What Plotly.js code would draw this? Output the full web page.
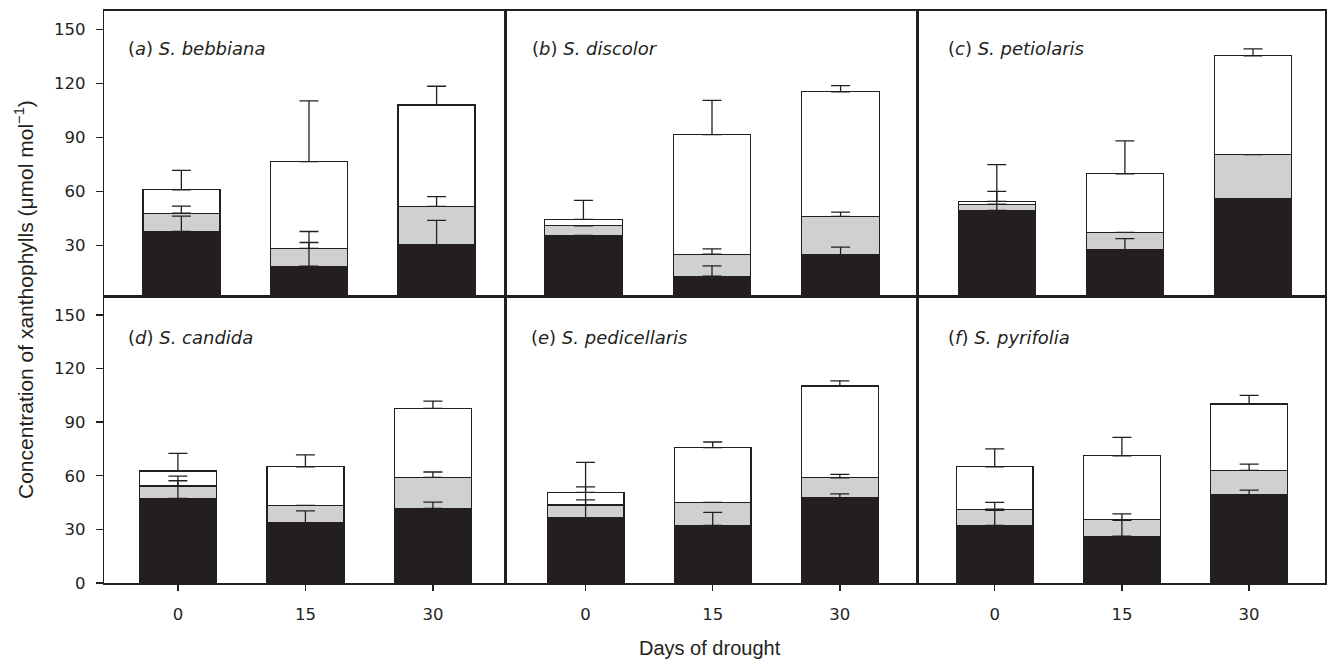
<!DOCTYPE html>
<html>
<head>
<meta charset="utf-8">
<script src="https://cdn.plot.ly/plotly-3.0.1.min.js"></script>
<style>html,body{margin:0;padding:0;background:#fff;} #chart{width:1330px;height:660px;}</style>
</head>
<body>
<div id="chart"></div>
<script>
// ---- data ----
const days = [0, 15, 30];
const dayLabels = ['0', '15', '30'];
const panelLetters = ['a', 'b', 'c', 'd', 'e', 'f'];
const species = ['S. bebbiana', 'S. discolor', 'S. petiolaris', 'S. candida', 'S. pedicellaris', 'S. pyrifolia'];

// segment heights per panel (bottom: black, middle: grey, top: white), µmol mol-1
const blackSeg = [
  [37.8, 18.5, 30.4],
  [35.6, 13.0, 25.0],
  [49.5, 27.7, 55.8],
  [47.3, 33.6, 41.7],
  [36.3, 32.2, 47.6],
  [32.2, 26.2, 49.2]
];
const greySeg = [
  [10.2, 9.9, 21.4],
  [5.4, 12.2, 21.2],
  [3.4, 9.6, 24.7],
  [6.9, 9.8, 17.4],
  [7.3, 12.9, 11.3],
  [9.1, 9.3, 13.8]
];
const whiteSeg = [
  [13.0, 48.2, 56.3],
  [3.5, 66.4, 69.2],
  [1.6, 32.6, 54.9],
  [8.4, 21.6, 38.6],
  [7.1, 30.6, 51.4],
  [23.7, 35.7, 37.2]
];
// upper error bars
const blackErr = [
  [8.6, 13.2, 13.6],
  [0, 5.7, 4.1],
  [3.4, 6.1, 0],
  [9.9, 6.8, 3.5],
  [10.2, 7.3, 2.3],
  [8.5, 8.8, 2.8]
];
const greyErr = [
  [3.9, 9.4, 5.4],
  [0, 3.0, 2.4],
  [7.2, 0, 0],
  [5.6, 0, 3.0],
  [10.2, 0, 1.9],
  [3.8, 3.2, 3.5]
];
const whiteErr = [
  [10.8, 33.8, 10.4],
  [10.6, 19.1, 3.5],
  [20.5, 18.2, 3.9],
  [9.9, 6.7, 4.1],
  [16.8, 3.2, 2.8],
  [10.1, 10.3, 4.8]
];
const yTicksTop = [30, 60, 90, 120, 150];
const yTicksBottom = [0, 30, 60, 90, 120, 150];

// ---- styling / layout ----
const INK = '#231f20';
const GREY = '#cfd0d2';
const W = 1330, H = 660;
const px = v => v / W;
const py = v => 1 - v / H;
const colDom = [[px(104.3), px(505.5)], [px(505.5), px(917.3)], [px(917.3), px(1325)]];
const rowDom = [[py(296.5), py(11)], [py(583), py(296.5)]];
const yRange = [[1.7, 160.3], [0, 160.3]];
const xRanges = [[-9.06, 38.10], [-9.09, 38.95], [-9.31, 38.43], [-8.66, 38.54], [-9.45, 39.14], [-9.13, 38.95]];
const labelPos = [[126, 48], [530, 48], [946, 48], [126, 337], [529, 337], [946, 337]];
const barW = 9.05;

const traces = [];
const layout = {
  width: W, height: H,
  margin: {l: 0, r: 0, t: 0, b: 0},
  paper_bgcolor: '#fff', plot_bgcolor: '#fff',
  barmode: 'stack',
  showlegend: false,
  hovermode: false,
  font: {family: 'DejaVu Sans', color: INK, size: 16},
  annotations: []
};

for (let i = 0; i < 6; i++) {
  const row = Math.floor(i / 3), col = i % 3;
  const sfx = i === 0 ? '' : String(i + 1);
  const xa = 'x' + sfx, ya = 'y' + sfx;
  const segs = [[blackSeg[i], INK], [greySeg[i], GREY], [whiteSeg[i], '#ffffff']];
  segs.forEach(([vals, color]) => {
    traces.push({
      type: 'bar', x: days, y: vals, width: barW,
      xaxis: xa, yaxis: ya,
      marker: {color: color, line: {color: INK, width: 1.3}}
    });
  });
  // error bars drawn above all bars, at the cumulative top of each segment
  const ex = [], ey = [], ee = [], em = [];
  for (let j = 0; j < 3; j++) {
    const t1 = blackSeg[i][j];
    const t2 = t1 + greySeg[i][j];
    const t3 = t2 + whiteSeg[i][j];
    [[t1, blackErr[i][j]], [t2, greyErr[i][j]], [t3, whiteErr[i][j]]].forEach(([t, e]) => {
      ex.push(days[j]); ey.push(t); ee.push(e); em.push(0);
    });
  }
  traces.push({
    type: 'scatter', mode: 'markers', x: ex, y: ey,
    xaxis: xa, yaxis: ya,
    marker: {size: 1, color: 'rgba(0,0,0,0)'},
    error_y: {type: 'data', symmetric: false, array: ee, arrayminus: em,
              color: INK, thickness: 1.3, width: 9.5}
  });

  layout['xaxis' + sfx] = {
    domain: colDom[col], range: xRanges[i], anchor: ya,
    showline: true, mirror: true, linecolor: INK, linewidth: 1.6,
    showgrid: false, zeroline: false, fixedrange: true,
    tickmode: 'array', tickvals: days, ticktext: dayLabels,
    ticks: row === 1 ? 'outside' : '', ticklen: 6, tickwidth: 1.4, tickcolor: INK,
    showticklabels: row === 1, ticklabelstandoff: 10,
    tickfont: {family: 'DejaVu Sans', size: 16.5, color: INK}
  };
  layout['yaxis' + sfx] = {
    domain: rowDom[row], range: yRange[row], anchor: xa,
    showline: true, mirror: true, linecolor: INK, linewidth: 1.6,
    showgrid: false, zeroline: false, fixedrange: true,
    tickmode: 'array', tickvals: row === 0 ? yTicksTop : yTicksBottom,
    ticks: col === 0 ? 'outside' : '', ticklen: 7, tickwidth: 1.4, tickcolor: INK,
    showticklabels: col === 0, ticklabelstandoff: 7,
    tickfont: {family: 'DejaVu Sans', size: 16.5, color: INK}
  };
  layout.annotations.push({
    xref: 'paper', yref: 'paper', x: px(labelPos[i][0]), y: py(labelPos[i][1]),
    xanchor: 'left', yanchor: 'middle', showarrow: false,
    text: '(<i>' + panelLetters[i] + '</i>) <i>' + species[i] + '</i>',
    font: {family: 'DejaVu Sans', size: 18, color: INK}
  });
}

layout.annotations.push({
  xref: 'paper', yref: 'paper', x: px(710), y: py(648),
  xanchor: 'center', yanchor: 'middle', showarrow: false,
  text: 'Days of drought',
  font: {family: 'Liberation Sans', size: 20, color: INK}
});
layout.annotations.push({
  xref: 'paper', yref: 'paper', x: px(24), y: py(300),
  xanchor: 'center', yanchor: 'middle', showarrow: false, textangle: -90,
  text: 'Concentration of xanthophylls (μmol mol<sup>−1</sup>)',
  font: {family: 'Liberation Sans', size: 21, color: INK}
});

Plotly.newPlot('chart', traces, layout, {staticPlot: true, displayModeBar: false});
</script>
</body>
</html>
